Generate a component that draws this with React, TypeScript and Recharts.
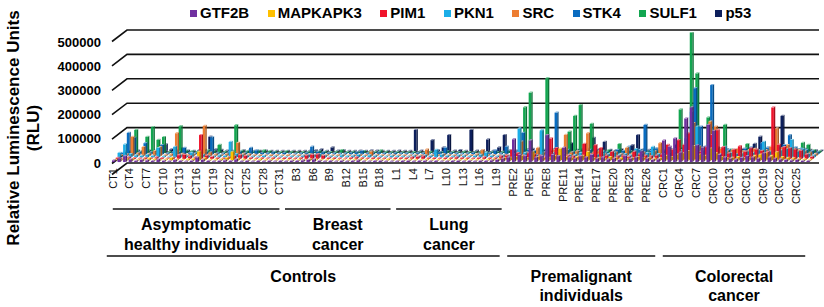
import React from 'react';
import { BarChart, Bar, XAxis, YAxis, CartesianGrid } from 'recharts';

const FONT = '"Liberation Sans", Arial, Helvetica, sans-serif';

// ---- categories ----
const groupPrefixes = ['CT', 'B', 'L', 'PRE', 'CRC'];
const groupSizes = [31, 20, 20, 28, 27];
const categories: string[] = groupPrefixes.flatMap((p, g) =>
  Array.from({ length: groupSizes[g] }, (_, i) => `${p}${i + 1}`)
);

// ---- group annotations ----
const subgroupLabels = [
  ['Asymptomatic', 'healthy individuals'],
  ['Breast', 'cancer'],
  ['Lung', 'cancer'],
];
const supergroupLabels = [['Controls'], ['Premalignant', 'individuals'], ['Colorectal', 'cancer']];
const supergroupSpans = [[0, 2], [3, 3], [4, 4]];

// ---- series ----
const seriesNames = ['GTF2B', 'MAPKAPK3', 'PIM1', 'PKN1', 'SRC', 'STK4', 'SULF1', 'p53'];
const seriesColors = ['#7030A0', '#FFC000', '#F0142C', '#1BAEE8', '#ED7D31', '#0A6CC0', '#12A650', '#0D1F5C'];
const yTicks = [0, 100000, 200000, 300000, 400000, 500000];

// values in thousands of RLU, order: CT1-31 | B1-20 | L1-20 | PRE1-28 | CRC1-27
const gtf2bK = [
  8, 15, 25, 12, 6, 10, 8, 5, 12, 6, 4, 9, 5, 3, 6, 20, 10, 5, 4, 6, 8, 5, 12, 4, 6, 3, 5, 4, 6, 3, 5,
  4, 6, 5, 8, 10, 12, 6, 4, 5, 3, 6, 4, 5, 8, 4, 3, 5, 6, 4, 3,
  4, 5, 6, 4, 5, 6, 4, 5, 3, 4, 5, 6, 4, 5, 4, 6, 5, 8, 10, 15,
  20, 95, 30, 25, 90, 20, 25, 112, 30, 25, 60, 20, 15, 25, 20, 30, 15, 20, 12, 15, 10, 25, 15, 20, 45, 15, 10, 12,
  90, 64, 99, 40, 181, 227, 70, 60, 154, 130, 30, 20, 15, 12, 18, 25, 20, 15, 37, 20, 15, 12, 10, 8, 10, 6, 5,
];
const mapkapk3K = [
  3, 5, 8, 6, 4, 5, 10, 6, 4, 5, 12, 5, 4, 6, 8, 37, 10, 4, 5, 6, 12, 37, 8, 5, 4, 3, 6, 4, 5, 3, 4,
  3, 4, 5, 4, 6, 5, 4, 3, 5, 4, 3, 4, 5, 6, 4, 3, 5, 4, 6, 4,
  3, 4, 5, 4, 3, 5, 4, 3, 4, 5, 3, 4, 5, 4, 3, 4, 5, 6, 8, 10,
  12, 15, 20, 10, 37, 15, 10, 12, 20, 50, 15, 10, 15, 20, 36, 10, 12, 8, 15, 10, 12, 8, 10, 15, 12, 10, 8, 10,
  20, 15, 25, 30, 40, 60, 25, 20, 50, 30, 15, 10, 12, 15, 10, 12, 20, 25, 30, 20, 35, 15, 12, 10, 8, 6, 5,
];
const pim1K = [
  6, 4, 8, 5, 3, 6, 4, 8, 5, 3, 6, 17, 18, 12, 8, 100, 15, 10, 6, 4, 8, 12, 17, 13, 6, 4, 5, 3, 6, 4, 5,
  5, 4, 6, 15, 18, 20, 14, 6, 5, 4, 3, 6, 8, 5, 4, 6, 5, 4, 3, 5,
  5, 6, 8, 10, 12, 6, 5, 4, 6, 5, 8, 6, 5, 4, 6, 8, 5, 6, 12, 15,
  38, 25, 15, 25, 20, 15, 10, 86, 46, 20, 15, 12, 10, 63, 20, 58, 46, 15, 30, 12, 15, 10, 31, 20, 15, 12, 15, 20,
  59, 40, 79, 60, 107, 45, 31, 50, 100, 120, 50, 24, 40, 54, 31, 45, 40, 35, 30, 214, 60, 50, 45, 40, 35, 20, 10,
];
const pkn1K = [
  20, 55, 15, 10, 8, 12, 8, 40, 6, 5, 45, 10, 6, 20, 5, 12, 8, 6, 10, 8, 65, 15, 10, 8, 6, 5, 8, 4, 6, 5, 4,
  6, 5, 8, 12, 10, 15, 8, 6, 5, 10, 6, 8, 12, 6, 10, 8, 6, 5, 8, 6,
  6, 5, 8, 6, 10, 8, 32, 12, 8, 6, 10, 8, 6, 8, 12, 20, 8, 6, 10, 8,
  15, 121, 20, 15, 10, 114, 15, 20, 25, 15, 10, 12, 20, 15, 10, 12, 25, 15, 20, 12, 15, 10, 36, 15, 20, 45, 15, 12,
  20, 25, 30, 80, 190, 128, 30, 25, 20, 15, 45, 20, 15, 18, 25, 20, 30, 66, 25, 20, 30, 35, 73, 25, 35, 15, 10,
];
const srcK = [
  5, 8, 80, 12, 38, 10, 21, 38, 6, 8, 95, 10, 6, 8, 12, 125, 15, 8, 6, 10, 12, 55, 10, 8, 6, 5, 4, 6, 5, 4, 5,
  4, 5, 6, 8, 6, 5, 6, 4, 5, 6, 4, 5, 6, 5, 19, 6, 5, 4, 6, 5,
  5, 4, 6, 5, 28, 6, 5, 8, 6, 5, 4, 6, 5, 8, 25, 6, 5, 4, 6, 5,
  10, 60, 15, 12, 34, 15, 20, 25, 12, 88, 15, 20, 12, 95, 15, 20, 10, 12, 15, 10, 34, 12, 10, 15, 12, 20, 54, 10,
  25, 30, 20, 95, 137, 40, 30, 143, 122, 30, 20, 25, 30, 20, 25, 30, 20, 25, 40, 115, 35, 46, 30, 25, 20, 15, 10,
];
const stk4K = [
  8, 90, 70, 12, 48, 10, 8, 40, 6, 10, 12, 28, 8, 6, 10, 12, 72, 8, 6, 10, 8, 12, 8, 28, 18, 8, 6, 10, 6, 8, 5,
  5, 6, 8, 33, 12, 10, 8, 6, 5, 6, 8, 10, 15, 6, 8, 10, 6, 5, 8, 6,
  6, 5, 8, 6, 5, 8, 10, 28, 8, 6, 5, 6, 8, 5, 10, 8, 18, 6, 33, 12,
  12, 90, 20, 15, 25, 10, 15, 174, 15, 20, 12, 15, 10, 20, 15, 12, 10, 12, 20, 15, 33, 12, 20, 123, 15, 26, 12, 10,
  20, 25, 30, 40, 275, 116, 35, 288, 30, 25, 20, 15, 20, 25, 30, 20, 48, 30, 25, 35, 40, 81, 30, 25, 20, 15, 10,
];
const sulf1K = [
  5, 10, 96, 8, 68, 108, 55, 67, 6, 8, 112, 10, 8, 6, 10, 12, 8, 34, 6, 8, 116, 10, 8, 6, 10, 12, 8, 6, 5, 8, 6,
  4, 5, 6, 5, 8, 6, 5, 6, 13, 5, 6, 4, 8, 6, 5, 12, 6, 4, 5, 4,
  4, 5, 3, 4, 6, 5, 4, 8, 5, 4, 6, 5, 4, 6, 5, 4, 5, 6, 8, 10,
  8, 190, 250, 10, 90, 310, 12, 10, 8, 89, 154, 199, 10, 121, 8, 10, 12, 6, 38, 10, 8, 12, 10, 8, 6, 10, 8, 6,
  15, 181, 20, 500, 330, 20, 148, 15, 20, 117, 15, 12, 10, 38, 12, 10, 15, 12, 10, 15, 12, 10, 15, 43, 34, 12, 8,
];
const p53K = [
  3, 4, 5, 6, 5, 4, 8, 30, 10, 6, 15, 5, 4, 6, 8, 62, 10, 8, 5, 4, 35, 6, 5, 4, 3, 5, 4, 3, 4, 3, 4,
  3, 4, 5, 6, 10, 4, 18, 5, 6, 4, 3, 5, 4, 6, 5, 4, 3, 4, 5, 4,
  4, 90, 5, 4, 48, 6, 18, 69, 5, 7, 4, 90, 5, 6, 51, 5, 18, 69, 6, 5,
  8, 10, 12, 6, 8, 10, 12, 6, 10, 35, 8, 10, 12, 57, 10, 41, 8, 6, 10, 8, 27, 69, 10, 8, 12, 6, 8, 10,
  30, 15, 10, 12, 15, 20, 10, 15, 12, 10, 8, 10, 12, 15, 32, 62, 10, 8, 12, 148, 20, 15, 10, 12, 8, 6, 5,
];
const seriesValuesK = [gtf2bK, mapkapk3K, pim1K, pkn1K, srcK, stk4K, sulf1K, p53K];

const data = categories.map((name, i) => {
  const row: Record<string, any> = { name };
  seriesNames.forEach((s, k) => {
    row[s] = seriesValuesK[k][i] * 1000;
  });
  return row;
});

// ---- geometry ----
const W = 824;
const H = 307;
const PLOT_LEFT = 110;
const PLOT_TOP = 30;
const PLOT_BOTTOM = 163;
const DEPTH_X = 14;
const BACK_Y = 11;
const FRONT_TOP_PAD = 12;
const rowDx = (k: number) => 1 + 1.85 * k;
const rowDy = (k: number) => 0.75 + 1.5 * k;
const BAND = (W - PLOT_LEFT - DEPTH_X) / categories.length;
const catCenter = (i: number) => PLOT_LEFT + BAND * (i + 0.5);

function mix(hex: string, target: number, t: number) {
  const n = parseInt(hex.slice(1), 16);
  const c = [(n >> 16) & 255, (n >> 8) & 255, n & 255].map((v) => Math.round(v + (target - v) * t));
  return `rgb(${c[0]},${c[1]},${c[2]})`;
}

function makeShape(color: string) {
  const top = mix(color, 255, 0.45);
  const side = mix(color, 0, 0.3);
  return (p: any) => {
    const { x, y, width, height } = p;
    if (x == null || y == null || isNaN(x) || isNaN(y)) return <g />;
    const h = Math.max(0, height || 0);
    const d = 1.4;
    const e = 1.15;
    return (
      <g>
        <rect x={x} y={y} width={width} height={h} fill={color} />
        <polygon
          points={`${x + width},${y} ${x + width + d},${y - e} ${x + width + d},${y + h - e} ${x + width},${y + h}`}
          fill={side}
        />
        <polygon points={`${x},${y} ${x + d},${y - e} ${x + width + d},${y - e} ${x + width},${y}`} fill={top} />
      </g>
    );
  };
}

const gridLine = (p: any) => {
  const { x1, x2, y1 } = p;
  return (
    <polyline
      key={`g-${y1}`}
      points={`${x1 + 2},${y1 + BACK_Y + 0.5} ${x1 + 17},${y1} ${x2 - 5},${y1}`}
      fill="none"
      stroke="#111"
      strokeWidth={1.6}
    />
  );
};

const CategoryTick = (props: any) => {
  const { x, y, index, payload } = props;
  if (index % 3 !== 0) return <g />;
  return (
    <text
      x={x}
      y={y}
      transform={`rotate(-90 ${x} ${y})`}
      textAnchor="end"
      dy="0.36em"
      fontSize={11}
      fontFamily={FONT}
      fill="#111"
    >
      {payload.value}
    </text>
  );
};

const ValueTick = (props: any) => {
  const { y, payload } = props;
  return (
    <text
      x={PLOT_LEFT - 9}
      y={y}
      dy="0.36em"
      textAnchor="end"
      fontSize={13}
      fontWeight={700}
      fontFamily={FONT}
      fill="#000"
    >
      {payload.value}
    </text>
  );
};

function groupRange(g: number) {
  const start = groupSizes.slice(0, g).reduce((a, b) => a + b, 0);
  return [start, start + groupSizes[g] - 1];
}

const Overlay = () => {
  const l1Y = 209;
  const l2Y = 256;
  return (
    <svg width={W} height={H} style={{ position: 'absolute', left: 0, top: 0, pointerEvents: 'none' }}>
      <g fontFamily={FONT} fontWeight={700} fill="#000">
        <text x={19} y={128} transform="rotate(-90 19 128)" textAnchor="middle" fontSize={17}>
          Relative Luminescence Units
        </text>
        <text x={39} y={128} transform="rotate(-90 39 128)" textAnchor="middle" fontSize={17}>
          (RLU)
        </text>
        {subgroupLabels.map((lines, g) => {
          const [s, e] = groupRange(g);
          const x1 = catCenter(s);
          const x2 = catCenter(e);
          const cx = (x1 + x2) / 2;
          return (
            <g key={`sg${g}`}>
              <line x1={x1} x2={x2} y1={l1Y} y2={l1Y} stroke="#111" strokeWidth={1.6} />
              {lines.map((t, j) => (
                <text key={j} x={cx} y={230 + j * 19.5} textAnchor="middle" fontSize={16}>
                  {t}
                </text>
              ))}
            </g>
          );
        })}
        {supergroupLabels.map((lines, g) => {
          const [gs, ge] = supergroupSpans[g];
          const x1 = catCenter(groupRange(gs)[0]) - (g === 0 ? 6 : 0);
          const x2 = catCenter(groupRange(ge)[1]) - 2;
          const cx = (x1 + x2) / 2;
          return (
            <g key={`pg${g}`}>
              <line x1={x1} x2={x2} y1={l2Y} y2={l2Y} stroke="#111" strokeWidth={1.6} />
              {lines.map((t, j) => (
                <text key={j} x={cx} y={281.5 + j * 19.5} textAnchor="middle" fontSize={16}>
                  {t}
                </text>
              ))}
            </g>
          );
        })}
      </g>
    </svg>
  );
};

const LegendRow = () => (
  <div
    style={{
      position: 'absolute',
      left: 190,
      top: 5,
      display: 'flex',
      alignItems: 'center',
      fontFamily: FONT,
      fontWeight: 700,
      fontSize: 15,
      lineHeight: '16px',
      color: '#000',
      whiteSpace: 'nowrap',
    }}
  >
    {seriesNames.map((s, k) => (
      <div key={s} style={{ display: 'flex', alignItems: 'center', marginRight: 18.5 }}>
        <span style={{ display: 'inline-block', width: 7, height: 7, background: seriesColors[k], marginRight: 3 }} />
        <span>{s}</span>
      </div>
    ))}
  </div>
);

export default function App() {
  const order = [7, 6, 5, 4, 3, 2, 1, 0]; // back rows drawn first
  return (
    <div style={{ position: 'absolute', left: 0, top: 0, width: W, height: H, background: '#fff' }}>
      <BarChart
        width={W}
        height={H}
        data={data}
        margin={{ top: PLOT_TOP, right: 0, bottom: 0, left: 50 }}
      >
        <XAxis
          xAxisId="front"
          dataKey="name"
          interval={0}
          tick={<CategoryTick />}
          tickLine={false}
          axisLine={false}
          tickSize={0}
          tickMargin={5}
          height={H - PLOT_BOTTOM}
          padding={{ left: 0, right: DEPTH_X }}
        />
        {order.map((k) => (
          <XAxis
            key={`x${k}`}
            xAxisId={`x${k}`}
            dataKey="name"
            hide
            padding={{ left: rowDx(k), right: DEPTH_X - rowDx(k) }}
          />
        ))}
        <YAxis
          yAxisId="front"
          domain={[0, 500000]}
          ticks={yTicks}
          allowDataOverflow
          width={60}
          tickLine={false}
          axisLine={false}
          padding={{ top: FRONT_TOP_PAD, bottom: 0 }}
          tick={<ValueTick />}
        />
        <YAxis
          yAxisId="back"
          domain={[0, 500000]}
          ticks={yTicks}
          allowDataOverflow
          hide
          padding={{ top: 0, bottom: BACK_Y }}
        />
        {order.map((k) => (
          <YAxis
            key={`y${k}`}
            yAxisId={`y${k}`}
            domain={[0, 500000]}
            allowDataOverflow
            hide
            padding={{ top: FRONT_TOP_PAD - rowDy(k), bottom: rowDy(k) }}
          />
        ))}
        <CartesianGrid xAxisId="front" yAxisId="back" vertical={false} horizontal={gridLine} />
        {order.map((k) => (
          <Bar
            key={seriesNames[k]}
            dataKey={seriesNames[k]}
            xAxisId={`x${k}`}
            yAxisId={`y${k}`}
            fill={seriesColors[k]}
            barSize={2.6}
            isAnimationActive={false}
            shape={makeShape(seriesColors[k])}
          />
        ))}
      </BarChart>
      <Overlay />
      <LegendRow />
    </div>
  );
}
